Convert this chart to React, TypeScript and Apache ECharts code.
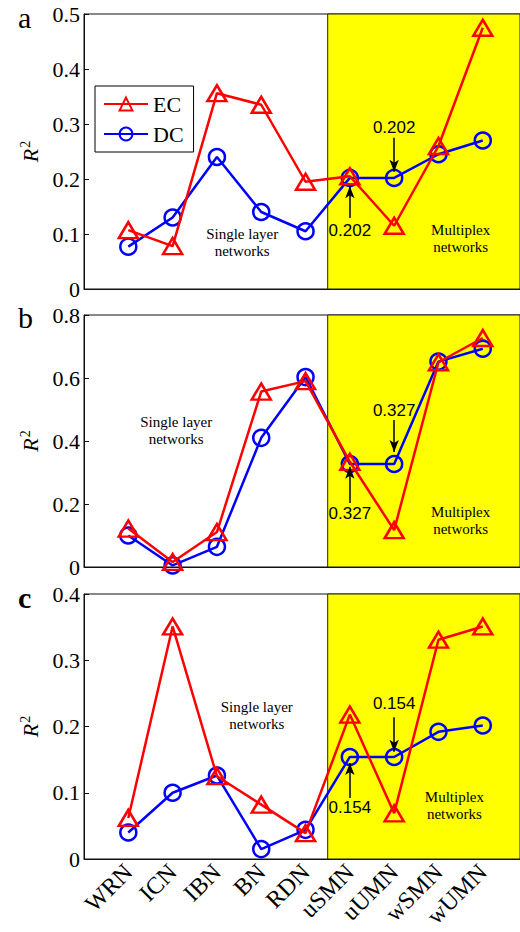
import React, { useEffect, useRef } from "react";
import * as echarts from "echarts";

const categories = ["WRN", "ICN", "IBN", "BN", "RDN", "uSMN", "uUMN", "wSMN", "wUMN"];

const ecA = [0.107, 0.078, 0.356, 0.335, 0.195, 0.205, 0.115, 0.26, 0.475];
const dcA = [0.077, 0.13, 0.24, 0.14, 0.105, 0.202, 0.202, 0.245, 0.27];
const ecB = [0.122, 0.016, 0.111, 0.557, 0.59, 0.334, 0.117, 0.65, 0.727];
const dcB = [0.1, 0.005, 0.064, 0.41, 0.603, 0.327, 0.327, 0.652, 0.693];
const ecC = [0.062, 0.351, 0.125, 0.082, 0.039, 0.218, 0.069, 0.331, 0.351];
const dcC = [0.04, 0.1, 0.126, 0.015, 0.044, 0.154, 0.154, 0.192, 0.2015];

const yMaxes = [0.5, 0.8, 0.4];
const yIntervals = [0.1, 0.2, 0.1];
const annotValues = ["0.202", "0.327", "0.154"];
const panelLetters = ["a", "b", "c"];

// annotation anchors in data space per panel
const annot = [
  { up: [0.293, 0.275, 0.213], low: [0.107, 0.129, 0.187], single: [2.57, 0.084], multi: [7.5, 0.091] },
  { up: [0.498, 0.467, 0.365], low: [0.171, 0.203, 0.318], single: [1.08, 0.432], multi: [7.5, 0.149] },
  { up: [0.234, 0.214, 0.162], low: [0.077, 0.092, 0.145], single: [2.9, 0.216], multi: [7.36, 0.0815] },
];

const SERIF = '"Liberation Serif", "Times New Roman", serif';
const SANS = '"Liberation Sans", Arial, sans-serif';
const XMIN = -1;
const XMAX = 8.84;

export default function App() {
  const ref = useRef<HTMLDivElement>(null);
  useEffect(() => {
    if (!ref.current) return;
    const chart = echarts.init(ref.current, undefined, { renderer: "svg" });
    const grids = [
      { left: 84, right: -1, top: 14, height: 275 },
      { left: 84, right: -1, top: 315, height: 252 },
      { left: 84, right: -1, top: 594, height: 265 },
    ].map((g) => ({ ...g, show: true, borderColor: "#111", borderWidth: 1, backgroundColor: "transparent" }));

    const xAxes = [0, 1, 2].map((i) => ({
      type: "value",
      gridIndex: i,
      min: XMIN,
      max: XMAX,
      interval: 1,
      axisLine: { show: true, onZero: false, lineStyle: { color: "#111", width: 1 } },
      axisTick: { show: false },
      splitLine: { show: false },
      axisLabel: {
        show: i === 2,
        rotate: 45,
        margin: 9,
        fontFamily: SERIF,
        fontSize: 24,
        color: "#000",
        showMinLabel: false,
        showMaxLabel: false,
        formatter: (v: number) => (Number.isInteger(v) && v >= 0 ? categories[v] ?? "" : ""),
      },
    }));

    const yAxes = [0, 1, 2].map((i) => ({
      type: "value",
      gridIndex: i,
      min: 0,
      max: yMaxes[i],
      interval: yIntervals[i],
      axisLine: { show: true, onZero: false, lineStyle: { color: "#111", width: 1 } },
      axisTick: { show: true, inside: true, length: 5, lineStyle: { color: "#111" } },
      splitLine: { show: false },
      axisLabel: {
        margin: 4,
        fontFamily: SERIF,
        fontSize: 22,
        color: "#000",
        formatter: (v: number) => (v === 0 ? "0" : v.toFixed(1)),
      },
      name: "{r|R}{s|2}",
      nameLocation: "middle",
      nameRotate: 90,
      nameGap: 42,
      nameTextStyle: {
        rich: {
          r: { fontFamily: SERIF, fontStyle: "italic", fontSize: 22, color: "#000", lineHeight: 24 },
          s: { fontFamily: SERIF, fontSize: 14, color: "#000", verticalAlign: "top", lineHeight: 24, padding: [0, 0, 8, 1] },
        },
      },
    }));

    const datasets = [
      [ecA, dcA],
      [ecB, dcB],
      [ecC, dcC],
    ];

    const series: any[] = [];
    datasets.forEach(([ec, dc], i) => {
      const a = annot[i];
      const textLabel = (txt: string, family: string, size: number) => ({
        show: true,
        position: "inside",
        formatter: txt,
        color: "#000",
        fontFamily: family,
        fontSize: size,
        lineHeight: size + 2,
        align: "center",
      });
      series.push({
        name: "DC",
        type: "line",
        xAxisIndex: i,
        yAxisIndex: i,
        data: dc.map((v, k) => [k, v]),
        symbol: "circle",
        symbolSize: 16,
        lineStyle: { color: "#0000ff", width: 2.5 },
        itemStyle: { color: "rgba(0,0,0,0)", borderColor: "#0000ff", borderWidth: 2.5 },
        z: 3,
        markArea: {
          silent: true,
          z: 0,
          itemStyle: { color: "#ffff00", borderColor: "#222", borderWidth: 1 },
          data: [[{ xAxis: 4.5 }, { xAxis: XMAX }]],
        },
        markLine: {
          silent: true,
          symbol: ["none", "arrow"],
          symbolSize: [7, 12],
          label: { show: false },
          lineStyle: { color: "#000", width: 1.5, type: "solid" },
          data: [
            [{ coord: [6, a.up[1]] }, { coord: [6, a.up[2]] }],
            [{ coord: [5, a.low[1]] }, { coord: [5, a.low[2]] }],
          ],
        },
        markPoint: {
          silent: true,
          symbol: "rect",
          symbolSize: 1,
          itemStyle: { color: "rgba(0,0,0,0)" },
          data: [
            { coord: [6, a.up[0]], label: textLabel(annotValues[i], SANS, 17) },
            { coord: [5, a.low[0]], label: textLabel(annotValues[i], SANS, 17) },
            { coord: a.single, label: textLabel("Single layer\nnetworks", SERIF, 15) },
            { coord: a.multi, label: textLabel("Multiplex\nnetworks", SERIF, 15) },
          ],
        },
      });
      series.push({
        name: "EC",
        type: "line",
        xAxisIndex: i,
        yAxisIndex: i,
        data: ec.map((v, k) => [k, v]),
        symbol: "triangle",
        symbolSize: [19, 16],
        lineStyle: { color: "#ff0000", width: 2.5 },
        itemStyle: { color: "rgba(0,0,0,0)", borderColor: "#ff0000", borderWidth: 2.5 },
        z: 4,
      });
    });

    chart.setOption({
      animation: false,
      backgroundColor: "#fff",
      grid: grids,
      xAxis: xAxes,
      yAxis: yAxes,
      legend: {
        data: ["EC", "DC"],
        orient: "vertical",
        left: 95,
        top: 86,
        padding: [7, 10, 7, 8],
        itemGap: 8,
        itemWidth: 44,
        itemHeight: 16,
        borderColor: "#000",
        borderWidth: 1,
        backgroundColor: "#fff",
        selectedMode: false,
        textStyle: { fontFamily: SERIF, fontSize: 22, color: "#000" },
      },
      graphic: panelLetters.map((l, i) => ({
        type: "text",
        left: 18,
        top: [2, 302, 582][i],
        style: {
          text: l,
          font: `${i === 2 ? "bold " : ""}30px ${SERIF}`,
          fill: "#000",
        },
      })),
      series,
    });
    return () => chart.dispose();
  }, []);
  return <div ref={ref} style={{ position: "absolute", left: 0, top: 0, width: 520, height: 932 }} />;
}
